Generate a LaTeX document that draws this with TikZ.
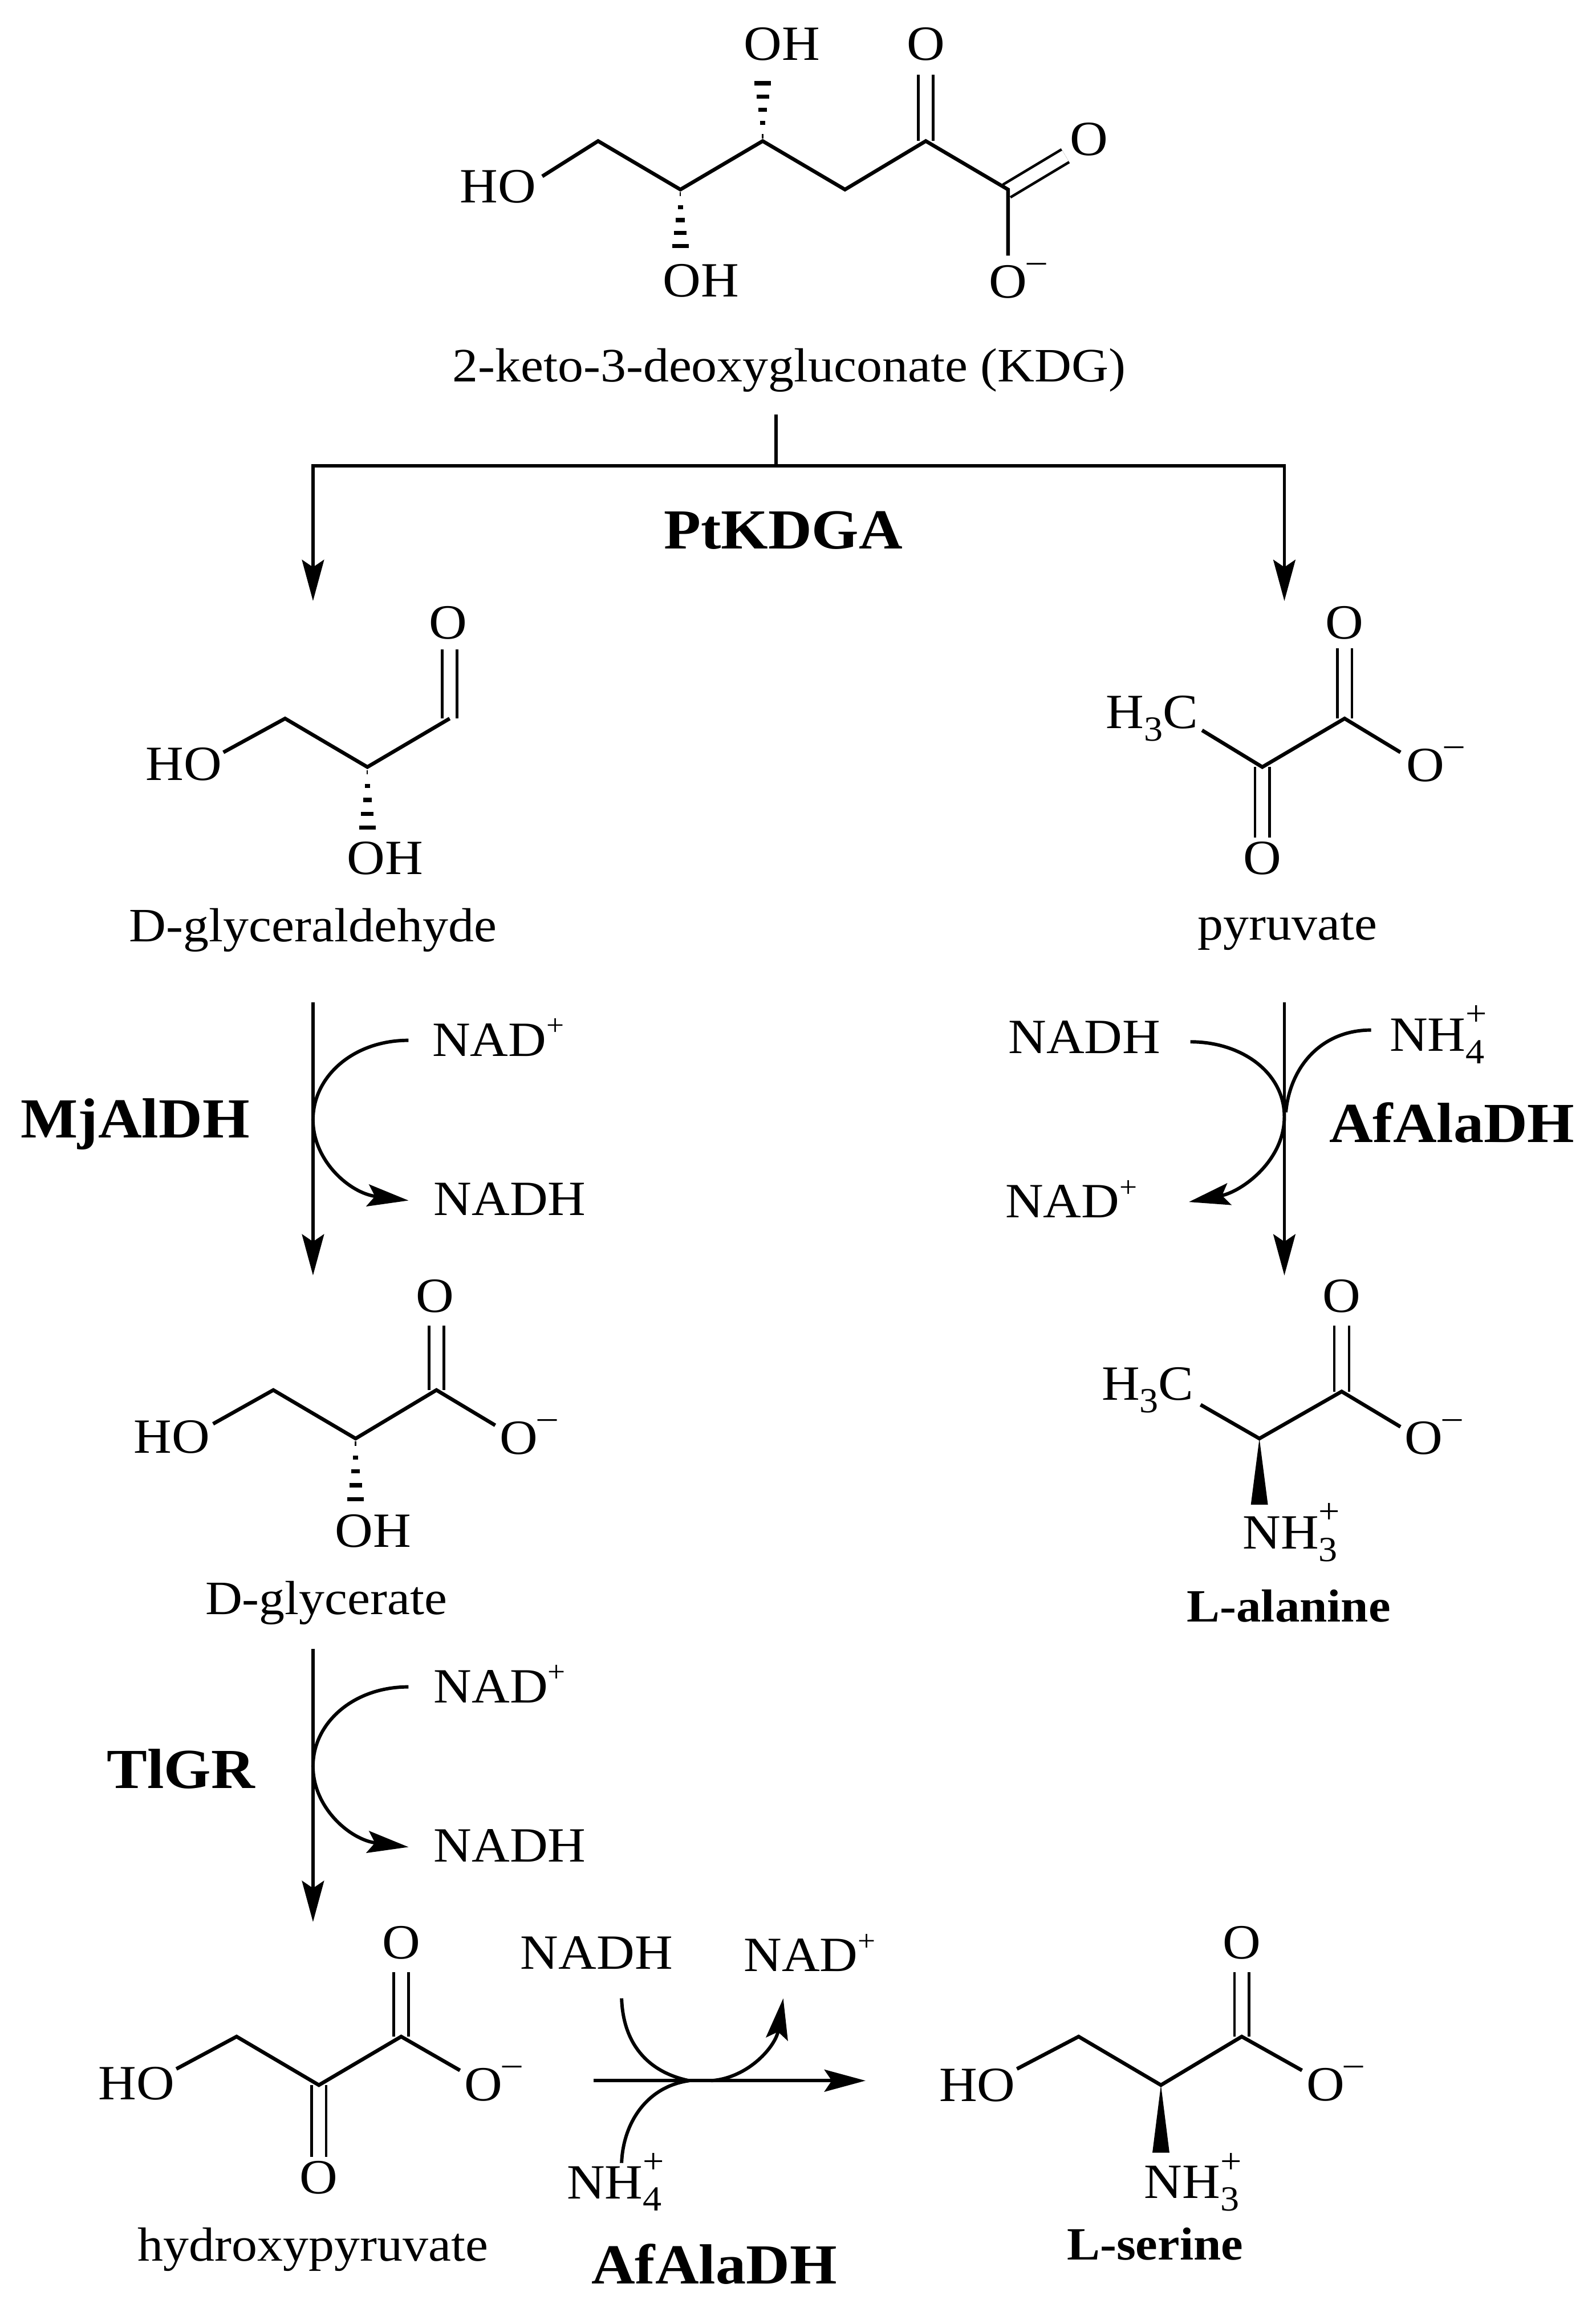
\documentclass[tikz,border=0pt]{standalone}
\usepackage{fontspec}
\setmainfont[FakeStretch=1.07]{Liberation Serif}
\usetikzlibrary{arrows.meta,positioning,calc}
\newcommand{\lowr}[1]{\raisebox{-.25em}{\fontsize{24}{24}\selectfont #1}}
\newcommand{\uppr}[1]{\raisebox{.52em}{\fontsize{24}{24}\selectfont #1}}
\newcommand{\both}[2]{\rlap{\uppr{#1}}\lowr{#2}}
\newcommand{\chg}{\rlap{\uppr{--}}}
\newcommand{\nadp}{NAD\rlap{\raisebox{.42em}{\fontsize{20}{20}\selectfont +}}}
\newcommand{\hashbond}[2]{
   \foreach \t [evaluate=\t as \w using \t*5.8] in {.08,.3,.52,.74,.96}
     \draw[line width=2.8pt] ($(#1)!\t!(#2)+(-\w,0)$) -- ($(#1)!\t!(#2)+(\w,0)$);
}
\newcommand{\wedgebond}[2]{
   \fill (#1) -- ($(#2)+(-5.8,0)$) -- ($(#2)+(5.8,0)$) -- cycle;
}
\tikzset{
    atom/.style={
           inner sep=0pt,
           font=\fontsize{33.5}{36}\selectfont
           },
    molname/.style={
           inner sep=0pt,
           font=\fontsize{32.6}{36}\selectfont
           },
    boldname/.style={
           inner sep=0pt,
           font=\fontsize{31.5}{36}\selectfont\bfseries
           },
    enzyme/.style={
           inner sep=0pt,
           font=\fontsize{38.5}{40}\selectfont\bfseries
           },
    bond/.style={
           line width=2.5pt,
           line join=miter
           },
    dblbond/.style={
           line width=1.8pt,
           double,
           double distance=8.2pt
           },
    rxn/.style={
           line width=2.3pt,
           -{Stealth[length=28pt,width=15pt,inset=5pt]}
           },
    plain/.style={
           line width=2.3pt
           }
}
\begin{document}
\begin{tikzpicture}[x=1pt,y=-1pt]
   \useasboundingbox (0,0) rectangle (1086,1568);
   % KDG
   \node[atom] (kHO) at (339,127) {HO};
   \node[atom] (kOHa) at (532,30) {OH};
   \node[atom] (kOa) at (630,30) {O};
   \node[atom] (kOb) at (741,95) {O};
   \node[atom] (kOHb) at (477,191) {OH};
   \node[atom] (kOc) at (686,191) {O\chg};
   \node[molname] (kdg) at (537,252) {2-keto-3-deoxygluconate (KDG)};
   \coordinate (k0) at (369,120);
   \coordinate (k6) at (407,96);
   \coordinate (k5) at (463,129);
   \coordinate (k4) at (519,96);
   \coordinate (k3) at (575,129);
   \coordinate (k2) at (630,96);
   \coordinate (k1) at (686,129);
   \coordinate (k2o) at (630,51);
   \coordinate (k1a) at (685,130);
   \coordinate (k1o) at (725,106);
   \coordinate (k1c) at (686,174);
   \coordinate (k4h) at (519,55);
   \coordinate (k5h) at (463,169);
   \draw[dblbond] (k2) -- (k2o);
   \draw[dblbond] (k1a) -- (k1o);
   \draw[bond] (k0) -- (k6) -- (k5) -- (k4) -- (k3) -- (k2) -- (k1) -- (k1c);
   \hashbond{k4}{k4h}
   \hashbond{k5}{k5h}
   % split
   \node[enzyme] (ptk) at (533,361) {PtKDGA};
   \coordinate (s0) at (528,282);
   \coordinate (s1) at (528,317);
   \coordinate (sl) at (213,317);
   \coordinate (sr) at (874,317);
   \coordinate (gla) at (213,409);
   \coordinate (pyr) at (874,409);
   \draw[plain] (s0) -- (s1);
   \draw[rxn] (s1) -- (sl) -- (gla);
   \draw[rxn] (s1) -- (sr) -- (pyr);
   % D-glyceraldehyde
   \node[atom] (gHO) at (125,520) {HO};
   \node[atom] (gO) at (305,424) {O};
   \node[atom] (gOH) at (262,584) {OH};
   \node[molname] (gname) at (213,633) {D-glyceraldehyde};
   \coordinate (g0) at (152,512);
   \coordinate (g1) at (194,489);
   \coordinate (g2) at (250,522);
   \coordinate (g3) at (306,489);
   \coordinate (g3o) at (306,442);
   \coordinate (g2h) at (250,565);
   \draw[dblbond] (g3) -- (g3o);
   \draw[bond] (g0) -- (g1) -- (g2) -- (g3);
   \hashbond{g2}{g2h}
   % pyruvate
   \node[atom] (pCH) at (784,489) {H\lowr{3}C};
   \node[atom] (pOa) at (915,424) {O};
   \node[atom] (pOb) at (970,520) {O\chg};
   \node[atom] (pOc) at (859,584) {O};
   \node[molname] (pname) at (876,634) {pyruvate};
   \coordinate (p0) at (818,497);
   \coordinate (p1) at (859,522);
   \coordinate (p2) at (915,489);
   \coordinate (p3) at (953,512);
   \coordinate (p2o) at (915,441);
   \coordinate (p1o) at (859,570);
   \draw[dblbond] (p2) -- (p2o);
   \draw[dblbond] (p1) -- (p1o);
   \draw[bond] (p0) -- (p1) -- (p2) -- (p3);
   % MjAlDH step
   \node[enzyme] (mj) at (92,765) {MjAlDH};
   \node[atom] (mNAD) at (333,706) {\nadp};
   \node[atom] (mNADH) at (347,816) {NADH};
   \coordinate (m0) at (213,682);
   \coordinate (m1) at (213,868);
   \coordinate (m2) at (278,708);
   \coordinate (m3) at (213,762);
   \coordinate (m4) at (278,817);
   \draw[rxn] (m0) -- (m1);
   \draw[rxn] (m2) .. controls (240,708) and (213,733) .. (m3) .. controls (213,790) and (238,812) .. (m4);
   % D-glycerate
   \node[atom] (cHO) at (117,978) {HO};
   \node[atom] (cO) at (296,882) {O};
   \node[atom] (cOb) at (353,978) {O\chg};
   \node[atom] (cOH) at (254,1042) {OH};
   \node[molname] (cname) at (222,1091) {D-glycerate};
   \coordinate (c0) at (145,969);
   \coordinate (c1) at (186,946);
   \coordinate (c2) at (242,979);
   \coordinate (c3) at (297,946);
   \coordinate (c4) at (337,970);
   \coordinate (c3o) at (297,902);
   \coordinate (c2h) at (242,1022);
   \draw[dblbond] (c3) -- (c3o);
   \draw[bond] (c0) -- (c1) -- (c2) -- (c3) -- (c4);
   \hashbond{c2}{c2h}
   % TlGR step
   \node[enzyme] (tl) at (123,1204) {TlGR};
   \node[atom] (tNAD) at (334,1146) {\nadp};
   \node[atom] (tNADH) at (347,1256) {NADH};
   \coordinate (t0) at (213,1122);
   \coordinate (t1) at (213,1308);
   \coordinate (t2) at (278,1148);
   \coordinate (t3) at (213,1202);
   \coordinate (t4) at (278,1257);
   \draw[rxn] (t0) -- (t1);
   \draw[rxn] (t2) .. controls (240,1148) and (213,1173) .. (t3) .. controls (213,1230) and (238,1252) .. (t4);
   % hydroxypyruvate
   \node[atom] (hHO) at (93,1418) {HO};
   \node[atom] (hOa) at (273,1322) {O};
   \node[atom] (hOb) at (329,1418) {O\chg};
   \node[atom] (hOc) at (217,1482) {O};
   \node[molname] (hname) at (213,1531) {hydroxypyruvate};
   \coordinate (h0) at (120,1408);
   \coordinate (h1) at (161,1386);
   \coordinate (h2) at (217,1419);
   \coordinate (h3) at (273,1386);
   \coordinate (h4) at (313,1409);
   \coordinate (h3o) at (273,1342);
   \coordinate (h2o) at (217,1468);
   \draw[dblbond] (h3) -- (h3o);
   \draw[dblbond] (h2) -- (h2o);
   \draw[bond] (h0) -- (h1) -- (h2) -- (h3) -- (h4);
   % AfAlaDH to L-serine
   \node[atom] (sNADH) at (406,1329) {NADH};
   \node[atom] (sNAD) at (545,1329) {\nadp};
   \node[atom] (sNH) at (418,1485) {NH\both{+}{4}};
   \node[enzyme] (saf) at (486,1541) {AfAlaDH};
   \coordinate (x0) at (404,1416);
   \coordinate (x1) at (589,1416);
   \coordinate (x2) at (423,1360);
   \coordinate (x3) at (469,1416);
   \coordinate (x4) at (423,1472);
   \coordinate (x5) at (484,1416);
   \coordinate (x6) at (533,1360);
   \draw[rxn] (x0) -- (x1);
   \draw[plain] (x2) .. controls (424,1390) and (440,1410) .. (x3);
   \draw[plain] (x4) .. controls (424,1445) and (440,1420) .. (x3);
   \draw[rxn] (x5) .. controls (510,1414) and (528,1392) .. (x6);
   % L-serine
   \node[atom] (rHO) at (665,1419) {HO};
   \node[atom] (rOa) at (845,1322) {O};
   \node[atom] (rOb) at (902,1418) {O\chg};
   \node[atom] (rNH) at (811,1485) {NH\both{+}{3}};
   \node[boldname] (rname) at (786,1527) {L-serine};
   \coordinate (r0) at (692,1408);
   \coordinate (r1) at (734,1386);
   \coordinate (r2) at (790,1419);
   \coordinate (r3) at (845,1386);
   \coordinate (r4) at (886,1409);
   \coordinate (r3o) at (845,1342);
   \coordinate (r2w) at (790,1465);
   \draw[dblbond] (r3) -- (r3o);
   \draw[bond] (r0) -- (r1) -- (r2) -- (r3) -- (r4);
   \wedgebond{r2}{r2w}
   % AfAlaDH to L-alanine
   \node[atom] (aNADH) at (738,706) {NADH};
   \node[atom] (aNAD) at (723,816) {\nadp};
   \node[atom] (aNH) at (978,704) {NH\both{+}{4}};
   \node[enzyme] (aaf) at (988,764) {AfAlaDH};
   \coordinate (y0) at (874,682);
   \coordinate (y1) at (874,868);
   \coordinate (y2) at (810,709);
   \coordinate (y3) at (874,760);
   \coordinate (y4) at (809,818);
   \coordinate (y5) at (933,701);
   \coordinate (y6) at (875,757);
   \draw[rxn] (y0) -- (y1);
   \draw[rxn] (y2) .. controls (845,709) and (874,730) .. (y3) .. controls (874,790) and (845,811) .. (y4);
   \draw[plain] (y5) .. controls (900,701) and (878,725) .. (y6);
   % L-alanine
   \node[atom] (lCH) at (781,946) {H\lowr{3}C};
   \node[atom] (lOa) at (913,882) {O};
   \node[atom] (lOb) at (969,978) {O\chg};
   \node[atom] (lNH) at (878,1043) {NH\both{+}{3}};
   \node[boldname] (lname) at (877,1093) {L-alanine};
   \coordinate (l0) at (817,956);
   \coordinate (l1) at (857,979);
   \coordinate (l2) at (913,947);
   \coordinate (l3) at (953,971);
   \coordinate (l2o) at (913,902);
   \coordinate (l1w) at (857,1024);
   \draw[dblbond] (l2) -- (l2o);
   \draw[bond] (l0) -- (l1) -- (l2) -- (l3);
   \wedgebond{l1}{l1w}
\end{tikzpicture}
\end{document}
